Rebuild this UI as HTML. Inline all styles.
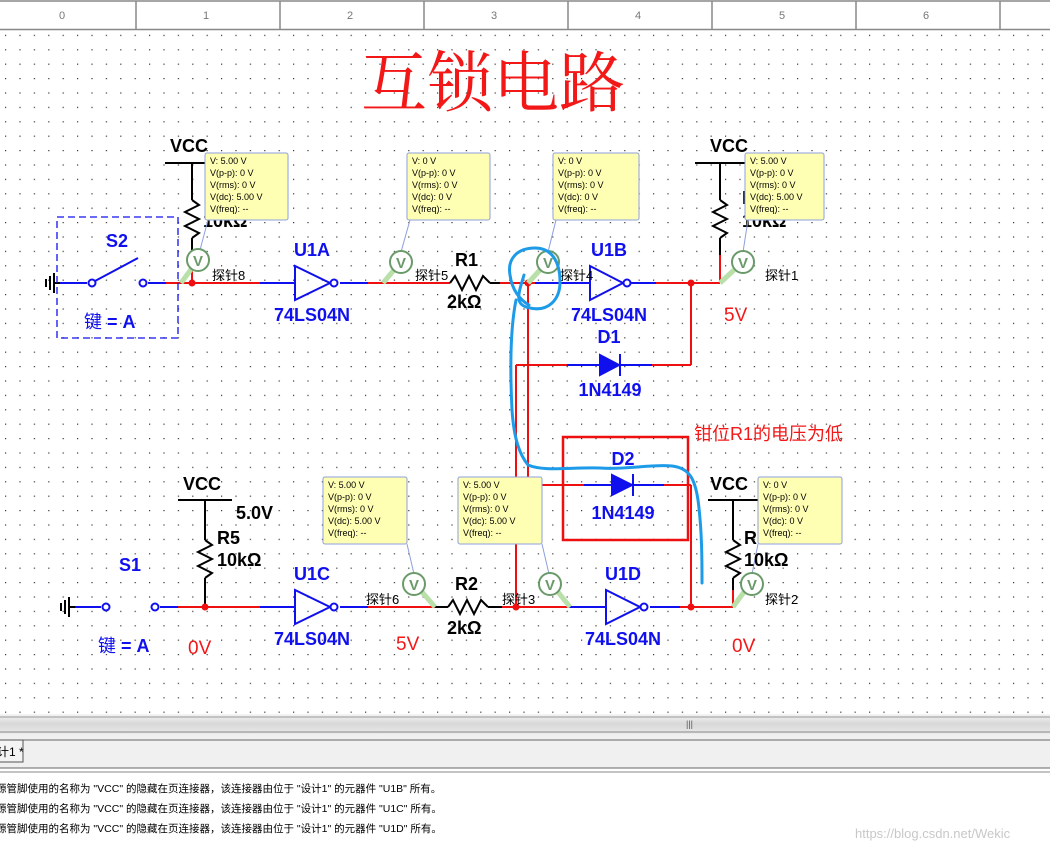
<!DOCTYPE html>
<html><head><meta charset="utf-8"><style>
html,body{margin:0;padding:0;background:#fff;width:1050px;height:853px;overflow:hidden}
svg{display:block}
.t{font-family:"Liberation Sans","Noto Sans CJK SC",sans-serif}
</style></head><body>
<svg width="1050" height="853" viewBox="0 0 1050 853" xmlns="http://www.w3.org/2000/svg" class="t">
<defs>
<pattern id="g" x="5" y="6" width="14.4" height="14.4" patternUnits="userSpaceOnUse"><rect x="0" y="0" width="1.2" height="1.2" fill="#333"/></pattern>
<linearGradient id="sb" x1="0" y1="0" x2="0" y2="1"><stop offset="0" stop-color="#f4f4f4"/><stop offset="0.5" stop-color="#d8d8d8"/><stop offset="1" stop-color="#eaeaea"/></linearGradient>
</defs>
<rect x="0" y="0" width="1050" height="30" fill="#fff"/>
<g fill="#777" font-size="11">
<text x="62" y="19" text-anchor="middle">0</text><text x="206" y="19" text-anchor="middle">1</text><text x="350" y="19" text-anchor="middle">2</text><text x="494" y="19" text-anchor="middle">3</text><text x="638" y="19" text-anchor="middle">4</text><text x="782" y="19" text-anchor="middle">5</text><text x="926" y="19" text-anchor="middle">6</text>
</g>
<g stroke="#888" stroke-width="1.5"><line x1="0" y1="1" x2="1050" y2="1"/><line x1="0" y1="29.5" x2="1050" y2="29.5"/>
<line x1="136" y1="1" x2="136" y2="29"/><line x1="280" y1="1" x2="280" y2="29"/><line x1="424" y1="1" x2="424" y2="29"/><line x1="568" y1="1" x2="568" y2="29"/><line x1="712" y1="1" x2="712" y2="29"/><line x1="856" y1="1" x2="856" y2="29"/><line x1="1000" y1="1" x2="1000" y2="29"/></g>
<rect x="0" y="32" width="1050" height="682" fill="url(#g)"/>

<text x="493" y="106" text-anchor="middle" font-family="'Noto Serif CJK SC',serif" font-size="66" fill="#f21818">互锁电路</text>

<g fill="none" stroke-width="2">
<line x1="60" y1="283" x2="87" y2="283" stroke="#1010ee"/>
<line x1="148" y1="283" x2="166" y2="283" stroke="#1010ee"/>
<line x1="166" y1="283" x2="260" y2="283" stroke="#ee1010"/>
<line x1="260" y1="283" x2="295" y2="283" stroke="#1010ee"/>
<line x1="340" y1="283" x2="368" y2="283" stroke="#1010ee"/>
<line x1="368" y1="283" x2="450" y2="283" stroke="#ee1010"/>
<line x1="490" y1="283" x2="500" y2="283" stroke="#000"/>
<line x1="500" y1="283" x2="535" y2="283" stroke="#ee1010"/>
<line x1="535" y1="283" x2="590" y2="283" stroke="#1010ee"/>
<line x1="630" y1="283" x2="656" y2="283" stroke="#1010ee"/>
<line x1="656" y1="283" x2="720" y2="283" stroke="#ee1010"/>
<line x1="720" y1="283" x2="720" y2="255" stroke="#ee1010"/>
<line x1="691" y1="283" x2="691" y2="365" stroke="#ee1010"/>
<line x1="691" y1="365" x2="652" y2="365" stroke="#ee1010"/>
<line x1="652" y1="365" x2="567" y2="365" stroke="#1010ee"/>
<line x1="567" y1="365" x2="516" y2="365" stroke="#ee1010"/>
<line x1="516" y1="365" x2="516" y2="607" stroke="#ee1010"/>
<line x1="528" y1="283" x2="528" y2="485" stroke="#ee1010"/>
<line x1="528" y1="485" x2="584" y2="485" stroke="#ee1010"/>
<line x1="584" y1="485" x2="664" y2="485" stroke="#1010ee"/>
<line x1="664" y1="485" x2="691" y2="485" stroke="#ee1010"/>
<line x1="691" y1="485" x2="691" y2="607" stroke="#ee1010"/>
<line x1="75" y1="607" x2="101" y2="607" stroke="#1010ee"/>
<line x1="160" y1="607" x2="178" y2="607" stroke="#1010ee"/>
<line x1="178" y1="607" x2="260" y2="607" stroke="#ee1010"/>
<line x1="260" y1="607" x2="295" y2="607" stroke="#1010ee"/>
<line x1="340" y1="607" x2="368" y2="607" stroke="#1010ee"/>
<line x1="368" y1="607" x2="435" y2="607" stroke="#ee1010"/>
<line x1="435" y1="607" x2="448" y2="607" stroke="#000"/>
<line x1="488" y1="607" x2="502" y2="607" stroke="#000"/>
<line x1="502" y1="607" x2="570" y2="607" stroke="#ee1010"/>
<line x1="570" y1="607" x2="605" y2="607" stroke="#1010ee"/>
<line x1="650" y1="607" x2="680" y2="607" stroke="#1010ee"/>
<line x1="680" y1="607" x2="733" y2="607" stroke="#ee1010"/>
<line x1="733" y1="607" x2="733" y2="590" stroke="#ee1010"/>
<g stroke="#000">
<line x1="165" y1="163" x2="205" y2="163"/><line x1="192" y1="163" x2="192" y2="200"/><polyline points="192,200 199,205 185,212 199,219 185,226 199,233 192,238"/><line x1="192" y1="238" x2="192" y2="255"/>
<line x1="695" y1="163" x2="745" y2="163"/><line x1="720" y1="163" x2="720" y2="200"/><polyline points="720,200 727,205 713,212 727,219 713,226 727,233 720,238"/><line x1="720" y1="238" x2="720" y2="255"/>
<line x1="178" y1="500" x2="232" y2="500"/><line x1="205" y1="500" x2="205" y2="540"/><polyline points="205,540 212,545 198,552 212,559 198,566 212,573 205,578"/><line x1="205" y1="578" x2="205" y2="607"/>
<line x1="708" y1="500" x2="760" y2="500"/><line x1="733" y1="500" x2="733" y2="540"/><polyline points="733,540 740,545 726,552 740,559 726,566 740,573 733,578"/><line x1="733" y1="578" x2="733" y2="590"/>
<polyline points="450,283 455,276 462,290 469,276 476,290 483,276 490,283"/>
<polyline points="448,607 453,600 460,614 467,600 474,614 481,600 488,607"/>
</g>
<line x1="192" y1="255" x2="192" y2="283" stroke="#ee1010"/>
</g>
<g stroke="#000" stroke-width="2"><line x1="60" y1="283" x2="54" y2="283"/><line x1="54" y1="273" x2="54" y2="293"/><line x1="50" y1="276" x2="50" y2="290"/><line x1="46" y1="279" x2="46" y2="287"/>
<line x1="75" y1="607" x2="69" y2="607"/><line x1="69" y1="597" x2="69" y2="617"/><line x1="65" y1="600" x2="65" y2="614"/><line x1="61" y1="603" x2="61" y2="611"/></g>
<g stroke="#1010ee" stroke-width="2" fill="#fff"><line x1="95" y1="281" x2="138" y2="258"/><circle cx="92" cy="283" r="3.5"/><circle cx="143" cy="283" r="3.5"/>
<circle cx="106" cy="607" r="3.5"/><circle cx="155" cy="607" r="3.5"/></g>
<rect x="57" y="217" width="121" height="121" fill="none" stroke="#1010ee" stroke-width="1.3" stroke-dasharray="7,4"/>
<g stroke="#1010ee" stroke-width="2" fill="#fff">
<polygon points="295,266 295,300 330,283" fill="none"/><circle cx="334" cy="283" r="3.5"/>
<polygon points="590,266 590,300 623,283" fill="none"/><circle cx="627" cy="283" r="3.5"/>
<polygon points="295,590 295,624 330,607" fill="none"/><circle cx="334" cy="607" r="3.5"/>
<polygon points="606,590 606,624 640,607" fill="none"/><circle cx="644" cy="607" r="3.5"/>
</g>
<g fill="#1010ee" stroke="#1010ee" stroke-width="2"><polygon points="600,355 600,375 619,365"/><line x1="620" y1="354" x2="620" y2="376"/>
<polygon points="612,475 612,495 632,485"/><line x1="633" y1="474" x2="633" y2="496"/></g>
<g fill="#ee1010"><circle cx="192" cy="283" r="3.5"/><circle cx="528" cy="283" r="3.5"/><circle cx="691" cy="283" r="3.5"/><circle cx="205" cy="607" r="3.5"/><circle cx="516" cy="607" r="3.5"/><circle cx="691" cy="607" r="3.5"/></g>
<rect x="563" y="437" width="125" height="103" fill="none" stroke="#ee1010" stroke-width="2.5"/>

<g font-size="18" font-weight="bold" fill="#000">
<text x="203" y="227">10kΩ</text><text x="742" y="204">R</text><text x="742" y="227">10kΩ</text>
</g>

<g stroke="#8da0dd" stroke-width="1"><line x1="200" y1="250" x2="208" y2="220"/><line x1="401" y1="252" x2="410" y2="220"/><line x1="548" y1="252" x2="556" y2="220"/><line x1="743" y1="252" x2="748" y2="220"/>
<line x1="414" y1="574" x2="407" y2="544"/><line x1="549" y1="574" x2="542" y2="544"/><line x1="752" y1="574" x2="758" y2="544"/></g>
<g stroke="#b8e0a8" stroke-width="5"><line x1="181" y1="283" x2="192" y2="268"/><line x1="383" y1="283" x2="394" y2="270"/><line x1="528" y1="283" x2="540" y2="270"/><line x1="720" y1="283" x2="734" y2="270"/>
<line x1="435" y1="607" x2="422" y2="592"/><line x1="570" y1="607" x2="558" y2="592"/><line x1="733" y1="607" x2="744" y2="592"/></g>
<g fill="#fff" stroke="#6a9a6a" stroke-width="2"><circle cx="198" cy="260" r="11"/><circle cx="401" cy="262" r="11"/><circle cx="548" cy="262" r="11"/><circle cx="743" cy="262" r="11"/>
<circle cx="414" cy="584" r="11"/><circle cx="550" cy="584" r="11"/><circle cx="752" cy="584" r="11"/></g>
<g fill="#6a9a6a" font-size="15" font-weight="bold" text-anchor="middle"><text x="198" y="266">V</text><text x="401" y="268">V</text><text x="548" y="268">V</text><text x="743" y="268">V</text><text x="414" y="590">V</text><text x="550" y="590">V</text><text x="752" y="590">V</text></g>
<g font-size="13" fill="#000"><text x="212" y="280">探针8</text><text x="415" y="280">探针5</text><text x="560" y="280">探针4</text><text x="765" y="280">探针1</text>
<text x="366" y="604">探针6</text><text x="502" y="604">探针3</text><text x="765" y="604">探针2</text></g>
<g font-size="18" font-weight="bold" fill="#000">
<text x="170" y="152">VCC</text><text x="710" y="152">VCC</text><text x="183" y="490">VCC</text><text x="710" y="490">VCC</text>
<text x="236" y="519">5.0V</text><text x="217" y="544">R5</text><text x="217" y="566">10kΩ</text>
<text x="744" y="544">R</text><text x="744" y="566">10kΩ</text>
<text x="455" y="266">R1</text><text x="447" y="308">2kΩ</text><text x="455" y="590">R2</text><text x="447" y="634">2kΩ</text>
</g>
<g font-size="18" font-weight="bold" fill="#1010ee" text-anchor="middle">
<text x="117" y="247">S2</text><text x="130" y="571">S1</text>
<text x="312" y="256">U1A</text><text x="312" y="321">74LS04N</text>
<text x="609" y="256">U1B</text><text x="609" y="321">74LS04N</text>
<text x="312" y="580">U1C</text><text x="312" y="645">74LS04N</text>
<text x="623" y="580">U1D</text><text x="623" y="645">74LS04N</text>
<text x="609" y="343">D1</text><text x="610" y="396">1N4149</text>
<text x="623" y="465">D2</text><text x="623" y="519">1N4149</text>
</g>
<g font-size="18" fill="#1010ee"><text x="84" y="328">键 <tspan font-weight="bold">= A</tspan></text><text x="98" y="652">键 <tspan font-weight="bold">= A</tspan></text></g>
<g font-size="19" fill="#f21818"><text x="724" y="321">5V</text><text x="188" y="654">0V</text><text x="396" y="650">5V</text><text x="732" y="652">0V</text>
<text x="694" y="440" font-size="18">钳位R1的电压为低</text></g>

<g font-size="9" fill="#000">
<g transform="translate(205,153)"><rect x="0" y="0" width="83" height="67" rx="2" fill="#ffffb4" stroke="#8da0dd"/><text x="5" y="11">V: 5.00 V</text><text x="5" y="23">V(p-p): 0 V</text><text x="5" y="35">V(rms): 0 V</text><text x="5" y="47">V(dc): 5.00 V</text><text x="5" y="59">V(freq): --</text></g>
<g transform="translate(407,153)"><rect x="0" y="0" width="83" height="67" rx="2" fill="#ffffb4" stroke="#8da0dd"/><text x="5" y="11">V: 0 V</text><text x="5" y="23">V(p-p): 0 V</text><text x="5" y="35">V(rms): 0 V</text><text x="5" y="47">V(dc): 0 V</text><text x="5" y="59">V(freq): --</text></g>
<g transform="translate(553,153)"><rect x="0" y="0" width="86" height="67" rx="2" fill="#ffffb4" stroke="#8da0dd"/><text x="5" y="11">V: 0 V</text><text x="5" y="23">V(p-p): 0 V</text><text x="5" y="35">V(rms): 0 V</text><text x="5" y="47">V(dc): 0 V</text><text x="5" y="59">V(freq): --</text></g>
<g transform="translate(745,153)"><rect x="0" y="0" width="79" height="67" rx="2" fill="#ffffb4" stroke="#8da0dd"/><text x="5" y="11">V: 5.00 V</text><text x="5" y="23">V(p-p): 0 V</text><text x="5" y="35">V(rms): 0 V</text><text x="5" y="47">V(dc): 5.00 V</text><text x="5" y="59">V(freq): --</text></g>
<g transform="translate(323,477)"><rect x="0" y="0" width="84" height="67" rx="2" fill="#ffffb4" stroke="#8da0dd"/><text x="5" y="11">V: 5.00 V</text><text x="5" y="23">V(p-p): 0 V</text><text x="5" y="35">V(rms): 0 V</text><text x="5" y="47">V(dc): 5.00 V</text><text x="5" y="59">V(freq): --</text></g>
<g transform="translate(458,477)"><rect x="0" y="0" width="84" height="67" rx="2" fill="#ffffb4" stroke="#8da0dd"/><text x="5" y="11">V: 5.00 V</text><text x="5" y="23">V(p-p): 0 V</text><text x="5" y="35">V(rms): 0 V</text><text x="5" y="47">V(dc): 5.00 V</text><text x="5" y="59">V(freq): --</text></g>
<g transform="translate(758,477)"><rect x="0" y="0" width="84" height="67" rx="2" fill="#ffffb4" stroke="#8da0dd"/><text x="5" y="11">V: 0 V</text><text x="5" y="23">V(p-p): 0 V</text><text x="5" y="35">V(rms): 0 V</text><text x="5" y="47">V(dc): 0 V</text><text x="5" y="59">V(freq): --</text></g>
</g>

<g fill="none" stroke="#1e9be8" stroke-width="3" stroke-linecap="round" stroke-linejoin="round">
<path d="M524,275 C518,295 514,305 530,308 C548,312 560,300 560,282 C560,262 552,248 535,248 C518,248 507,258 510,275 C512,290 520,300 529,305"/>
<path d="M516,300 C510,330 510,370 512,410 C514,440 520,455 528,465 C545,472 570,467 600,468 C625,470 650,464 672,466 C690,468 695,480 698,500 C702,530 702,560 702,583"/>
</g>

<rect x="0" y="714" width="1050" height="20" fill="url(#sb)"/>
<line x1="0" y1="717" x2="1050" y2="717" stroke="#999"/>
<line x1="0" y1="732" x2="1050" y2="732" stroke="#888"/>
<text x="686" y="727" font-size="9" fill="#555">|||</text>
<rect x="0" y="734" width="1050" height="34" fill="#f0f0f0"/>
<line x1="0" y1="740" x2="1050" y2="740" stroke="#666"/>
<line x1="0" y1="768" x2="1050" y2="768" stroke="#666"/>
<line x1="0" y1="772" x2="1050" y2="772" stroke="#888"/>
<path d="M0,740 H23 V762 H0" fill="#f4f4f4" stroke="#555"/>
<text x="-3" y="756" font-size="12" fill="#000">计1 *</text>
<rect x="0" y="773" width="1050" height="80" fill="#fff"/>
<g font-size="10.5" fill="#000"><text x="-4" y="792">源管脚使用的名称为 "VCC" 的隐藏在页连接器，该连接器由位于 "设计1" 的元器件 "U1B" 所有。</text>
<text x="-4" y="812">源管脚使用的名称为 "VCC" 的隐藏在页连接器，该连接器由位于 "设计1" 的元器件 "U1C" 所有。</text>
<text x="-4" y="832">源管脚使用的名称为 "VCC" 的隐藏在页连接器，该连接器由位于 "设计1" 的元器件 "U1D" 所有。</text></g>
<text x="855" y="838" font-size="13" fill="#c8c8c8">https://blog.csdn.net/Wekic</text>
</svg>
</body></html>
